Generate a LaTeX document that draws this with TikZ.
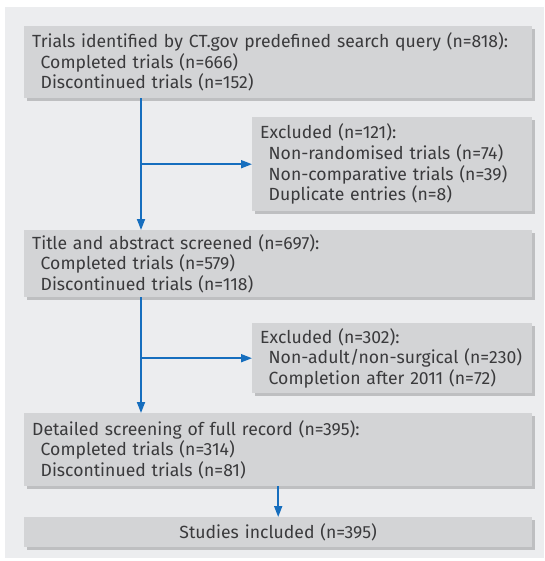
\documentclass[tikz,border=0pt]{standalone}
\usepackage{fontspec}
\setmainfont{Fira Sans}
\usetikzlibrary{arrows.meta,shadows}
\definecolor{panelgray}{RGB}{236,237,239}
\definecolor{boxgray}{RGB}{211,212,214}
\definecolor{shadowgray}{RGB}{190,191,193}
\definecolor{txtgray}{RGB}{58,58,60}
\definecolor{bmjblue}{RGB}{22,110,190}
\begin{document}
\begin{tikzpicture}[x=1pt,y=-1pt,
  flowbox/.style={rectangle, fill=boxgray, anchor=north west, inner xsep=8pt, inner ysep=0pt,
    align=left, text=txtgray, font=\fontsize{17.6}{20.6}\selectfont,
    drop shadow={shadow xshift=2.5pt, shadow yshift=-2.5pt, fill=shadowgray, opacity=1}},
  mainbox/.style={flowbox, text width=492pt, minimum height=#1},
  exbox/.style={flowbox, text width=264pt, minimum height=#1},
  arr/.style={draw=bmjblue, line width=1.8pt, -{Triangle[length=11pt,width=8pt]}}]
\useasboundingbox (0,0) rectangle (544,561);
\fill[white] (0,0) rectangle (544,561);
\fill[panelgray] (5,7) rectangle (544,558);
\newcommand{\ind}{\hspace*{8.5pt}}
\node[mainbox=72pt] (b1) at (24,26) {Trials identified by CT.gov predefined search query (n=818):\\
\ind Completed trials (n=666)\\
\ind Discontinued trials (n=152)};
\node[exbox=94pt] (e1) at (252,117) {Excluded (n=121):\\
\ind Non-randomised trials (n=74)\\
\ind Non-comparative trials (n=39)\\
\ind Duplicate entries (n=8)};
\node[mainbox=67pt] (b2) at (24,230) {Title and abstract screened (n=697):\\
\ind Completed trials (n=579)\\
\ind Discontinued trials (n=118)};
\node[exbox=70pt] (e2) at (252,323) {Excluded (n=302):\\
\ind Non-adult/non-surgical (n=230)\\
\ind Completion after 2011 (n=72)};
\node[mainbox=73pt] (b3) at (24,413) {Detailed screening of full record (n=395):\\
\ind Completed trials (n=314)\\
\ind Discontinued trials (n=81)};
\node[mainbox=30pt, align=center] (b4) at (24,517) {Studies included (n=395)};
\coordinate (colx) at (141,0);
\draw[arr] (b1.south -| colx) -- (b2.north -| colx);
\draw[arr] (colx |- e1.west) -- (e1.west);
\draw[arr] (b2.south -| colx) -- (b3.north -| colx);
\draw[arr] (colx |- e2.west) -- (e2.west);
\draw[arr] (b3.south) -- (b4.north);
\end{tikzpicture}
\end{document}
